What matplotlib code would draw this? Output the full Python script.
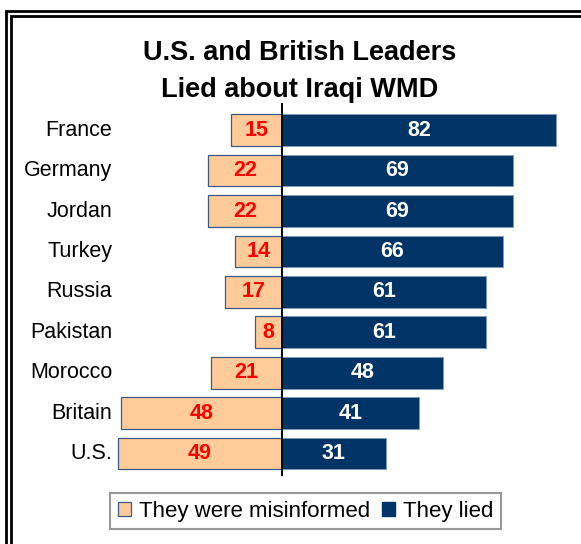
import matplotlib
matplotlib.use("Agg")
import matplotlib.pyplot as plt
from matplotlib.lines import Line2D
from matplotlib.patches import Patch
from matplotlib.transforms import blended_transform_factory

plt.rcParams['font.family'] = ['Liberation Sans', 'DejaVu Sans']

countries = ["France", "Germany", "Jordan", "Turkey", "Russia",
             "Pakistan", "Morocco", "Britain", "U.S."]
misinformed = [15, 22, 22, 14, 17, 8, 21, 48, 49]
lied = [82, 69, 69, 66, 61, 61, 48, 41, 31]

W, H = 581, 544
ORANGE = "#FFCC99"
NAVY = "#003366"

fig = plt.figure(figsize=(W / 100, H / 100), dpi=100)

# pixel helpers
def fx(px):
    return px / W

def fy(py):
    return 1 - py / H

# double border (thick outer, inner line), runs off right and bottom
for off in (9.5, 14.5):
    fig.add_artist(Line2D([fx(off - 4), fx(off - 4), 1.0], [0.0, fy(off + 1.5), fy(off + 1.5)],
                          transform=fig.transFigure, color="black", lw=2.0,
                          solid_joinstyle="miter"))

zero_px = 281.7
scale = 3.35
ax_l, ax_r = 100, 575
ax_t, ax_b = 102.7, 475.7
row0, step = 130.2, 40.41

ax = fig.add_axes([fx(ax_l), fy(ax_b), fx(ax_r - ax_l), (ax_b - ax_t) / H])
ax.set_xlim((ax_l - zero_px) / scale, (ax_r - zero_px) / scale)
ax.set_ylim((ax_b - row0) / step, (ax_t - row0) / step)
ax.axis("off")

ypos = list(range(len(countries)))
ax.barh(ypos, [-v for v in misinformed], height=0.785, color=ORANGE,
        edgecolor="#3B5B85", linewidth=0.9)
ax.barh(ypos, lied, height=0.785, color=NAVY, edgecolor="#7F9CBF", linewidth=0.7)
ax.axvline(0, color="black", lw=1.4)

for y, m, l in zip(ypos, misinformed, lied):
    ax.text(-m / 2, y, str(m), ha="center", va="center", color="#FF0000",
            fontsize=15.5, fontweight="bold")
    ax.text(l / 2, y, str(l), ha="center", va="center", color="white",
            fontsize=15.5, fontweight="bold")

lab_tr = blended_transform_factory(fig.transFigure, ax.transData)
for y, name in zip(ypos, countries):
    ax.text(fx(112), y, name, ha="right", va="center", fontsize=15.5,
            transform=lab_tr)

fig.text(fx(300), fy(60), "U.S. and British Leaders", ha="center", va="baseline",
         fontsize=19.5, fontweight="bold")
fig.text(fx(300), fy(97), "Lied about Iraqi WMD", ha="center", va="baseline",
         fontsize=19.5, fontweight="bold")

handles = [Patch(facecolor=ORANGE, edgecolor="#3B5B85", linewidth=0.9),
           Patch(facecolor=NAVY, edgecolor=NAVY)]
leg = fig.legend(handles, ["They were misinformed", "They lied"], ncol=2,
                 loc="center", bbox_to_anchor=(fx(305.5), fy(511)),
                 fontsize=16, frameon=True, fancybox=False, edgecolor="#808080",
                 handlelength=0.6, handleheight=0.6, handletextpad=0.35,
                 columnspacing=0.55, borderpad=0.35, borderaxespad=0)
leg.get_frame().set_linewidth(1.5)

fig.savefig("out.png", dpi=100)
